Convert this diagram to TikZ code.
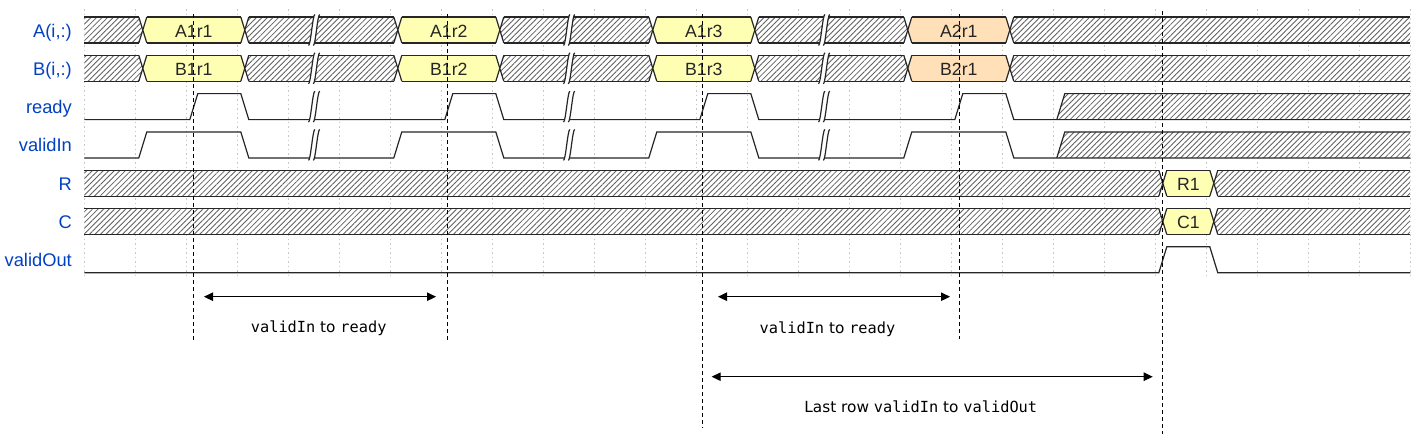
\documentclass[tikz,border=0pt]{standalone}
\usepackage{fontspec}
\setmainfont{Liberation Sans}
\newfontfamily\amono{DejaVu Sans Mono}
\newfontfamily\asans{DejaVu Sans}
\usetikzlibrary{arrows.meta,patterns.meta}
\definecolor{wdblue}{HTML}{0041C4}
\definecolor{wdyellow}{HTML}{FFFFB4}
\definecolor{wdorange}{HTML}{FFE0B9}
\tikzset{
 wave/.style={line width=1.2pt, draw=black!85, line join=miter},
 xfill/.style={preaction={fill=white}, pattern={Lines[angle=45,distance=3.9pt,line width=0.85pt]}, pattern color=black!62},
 yfill/.style={fill=wdyellow},
 ofill/.style={fill=wdorange},
 gridline/.style={draw=black!22, line width=0.8pt, dash pattern=on 1.5pt off 3pt},
 marker/.style={draw=black, line width=1pt, dash pattern=on 4pt off 3pt},
 dimarrow/.style={draw=black, line width=1pt, arrows={Triangle[length=9pt,width=8.5pt]-Triangle[length=9pt,width=8.5pt]}},
 signame/.style={anchor=base east, text=wdblue, font=\fontsize{18.3}{20}\selectfont, inner sep=0pt},
 datalbl/.style={anchor=base, text=black!85, font=\fontsize{17.7}{20}\selectfont, inner sep=0pt},
 dimlbl/.style={anchor=base, text=black, font=\asans\fontsize{15.3}{18}\selectfont, inner sep=0pt},
}
\newcommand\px[2]{84.3+51*#1+#2}
\newcommand\busseg[4]{%
  \pgfmathsetmacro\yt{17+38.3*#1}%
  \pgfmathsetmacro\yb{\yt+26}%
  \pgfmathsetmacro\ym{\yt+13}%
  \ifnum#2=0
    \pgfmathsetmacro\xlt{84.3}\pgfmathsetmacro\xlm{84.3}%
  \else
    \pgfmathsetmacro\xlt{84.3+51*#2+11.5}\pgfmathsetmacro\xlm{84.3+51*#2+7.5}%
  \fi
  \ifnum#3=26
    \pgfmathsetmacro\xrt{84.3+51*26}\pgfmathsetmacro\xrm{\xrt}%
  \else
    \pgfmathsetmacro\xrt{84.3+51*#3+3.5}\pgfmathsetmacro\xrm{84.3+51*#3+7.5}%
  \fi
  \path[#4] (\xlt,\yt) -- (\xrt,\yt) -- (\xrm,\ym) -- (\xrt,\yb) -- (\xlt,\yb) -- (\xlm,\ym) -- cycle;
  \draw[wave] (\xlt,\yt) -- (\xrt,\yt);
  \draw[wave] (\xlt,\yb) -- (\xrt,\yb);
  \ifnum#2>0 \draw[wave] (\xlt,\yt) -- (\xlm,\ym) -- (\xlt,\yb);\fi
  \ifnum#3<26 \draw[wave] (\xrt,\yt) -- (\xrm,\ym) -- (\xrt,\yb);\fi
}
\newcommand\buslbl[5]{%
  \pgfmathsetmacro\lx{84.3+51*(#3+#4)/2+7.5}%
  \pgfmathsetmacro\ly{17+38.3*#2+20}%
  \node[datalbl] (#1) at (\lx,\ly) {#5};%
}
\newcommand\gapmark[2]{%
  \pgfmathsetmacro\gx{84.3+51*(#2+0.5)+0.3}%
  \pgfmathsetmacro\gt{17+38.3*#1-2.5}%
  \pgfmathsetmacro\gb{\gt+31}%
  \fill[white] ({\gx-2.4-3.2},\gb) .. controls ({\gx-2.4-1},\gb) and ({\gx-2.4+1},\gt) .. ({\gx-2.4+3.2},\gt)
     -- ({\gx+2.4+3.2},\gt) .. controls ({\gx+2.4+1},\gt) and ({\gx+2.4-1},\gb) .. ({\gx+2.4-3.2},\gb) -- cycle;
  \draw[wave] ({\gx-2.4-3.2},\gb) .. controls ({\gx-2.4-1},\gb) and ({\gx-2.4+1},\gt) .. ({\gx-2.4+3.2},\gt);
  \draw[wave] ({\gx+2.4-3.2},\gb) .. controls ({\gx+2.4-1},\gb) and ({\gx+2.4+1},\gt) .. ({\gx+2.4+3.2},\gt);
}
\begin{document}
\begin{tikzpicture}[x=1pt,y=-1pt]
\fill[white] (0,0) rectangle (1416,434);
\useasboundingbox (0,0) rectangle (1416,434);
% grid
\foreach \k in {0,...,26} \draw[gridline] ({84.3+51*\k},9) -- ({84.3+51*\k},279);
% signal names
\node[signame] (nA) at (72,37) {A(i,:)};
\node[signame] (nB) at (72,75.3) {B(i,:)};
\node[signame] (nready) at (72,113.6) {ready};
\node[signame] (nvalidIn) at (72,151.9) {validIn};
\node[signame] (nR) at (72,190.2) {R};
\node[signame] (nC) at (72,228.5) {C};
\node[signame] (nvalidOut) at (72,266.8) {validOut};
% A and B buses
\foreach \r in {0,1}{
  \busseg{\r}{0}{1}{xfill}
  \busseg{\r}{1}{3}{yfill}
  \busseg{\r}{3}{6}{xfill}
  \busseg{\r}{6}{8}{yfill}
  \busseg{\r}{8}{11}{xfill}
  \busseg{\r}{11}{13}{yfill}
  \busseg{\r}{13}{16}{xfill}
  \busseg{\r}{16}{18}{ofill}
  \busseg{\r}{18}{26}{xfill}
}
\buslbl{a1}{0}{1}{3}{A1r1}
\buslbl{a2}{0}{6}{8}{A1r2}
\buslbl{a3}{0}{11}{13}{A1r3}
\buslbl{a4}{0}{16}{18}{A2r1}
\buslbl{b1}{1}{1}{3}{B1r1}
\buslbl{b2}{1}{6}{8}{B1r2}
\buslbl{b3}{1}{11}{13}{B1r3}
\buslbl{b4}{1}{16}{18}{B2r1}
% ready
\path[xfill] ({\px{19}{3.5}},119.6) -- ({\px{19}{11.5}},93.6) -- ({\px{26}{0}},93.6) -- ({\px{26}{0}},119.6) -- cycle;
\draw[wave] ({\px{19}{3.5}},119.6) -- ({\px{19}{11.5}},93.6) -- ({\px{26}{0}},93.6);
\draw[wave] (84.3,119.6)
 -- ({\px{2}{3.5}},119.6) -- ({\px{2}{11.5}},93.6) -- ({\px{3}{3.5}},93.6) -- ({\px{3}{11.5}},119.6)
 -- ({\px{7}{3.5}},119.6) -- ({\px{7}{11.5}},93.6) -- ({\px{8}{3.5}},93.6) -- ({\px{8}{11.5}},119.6)
 -- ({\px{12}{3.5}},119.6) -- ({\px{12}{11.5}},93.6) -- ({\px{13}{3.5}},93.6) -- ({\px{13}{11.5}},119.6)
 -- ({\px{17}{3.5}},119.6) -- ({\px{17}{11.5}},93.6) -- ({\px{18}{3.5}},93.6) -- ({\px{18}{11.5}},119.6)
 -- ({\px{26}{0}},119.6);
% validIn
\path[xfill] ({\px{19}{3.5}},157.9) -- ({\px{19}{11.5}},131.9) -- ({\px{26}{0}},131.9) -- ({\px{26}{0}},157.9) -- cycle;
\draw[wave] ({\px{19}{3.5}},157.9) -- ({\px{19}{11.5}},131.9) -- ({\px{26}{0}},131.9);
\draw[wave] (84.3,157.9)
 -- ({\px{1}{3.5}},157.9) -- ({\px{1}{11.5}},131.9) -- ({\px{3}{3.5}},131.9) -- ({\px{3}{11.5}},157.9)
 -- ({\px{6}{3.5}},157.9) -- ({\px{6}{11.5}},131.9) -- ({\px{8}{3.5}},131.9) -- ({\px{8}{11.5}},157.9)
 -- ({\px{11}{3.5}},157.9) -- ({\px{11}{11.5}},131.9) -- ({\px{13}{3.5}},131.9) -- ({\px{13}{11.5}},157.9)
 -- ({\px{16}{3.5}},157.9) -- ({\px{16}{11.5}},131.9) -- ({\px{18}{3.5}},131.9) -- ({\px{18}{11.5}},157.9)
 -- ({\px{26}{0}},157.9);
% R and C
\foreach \r in {4,5}{
  \busseg{\r}{0}{21}{xfill}
  \busseg{\r}{21}{22}{yfill}
  \busseg{\r}{22}{26}{xfill}
}
\buslbl{r1}{4}{21}{22}{R1}
\buslbl{c1}{5}{21}{22}{C1}
% validOut
\draw[wave] (84.3,272.8)
 -- ({\px{21}{3.5}},272.8) -- ({\px{21}{11.5}},246.8) -- ({\px{22}{3.5}},246.8) -- ({\px{22}{11.5}},272.8)
 -- ({\px{26}{0}},272.8);
% gaps
\foreach \r in {0,1,2,3}{
  \foreach \c in {4,9,14}{ \gapmark{\r}{\c} }
}
% markers
\draw[marker] (193.3,14) -- (193.3,340);
\draw[marker] (447.3,14) -- (447.3,340);
\draw[marker] (702.3,14) -- (702.3,428);
\draw[marker] (959.3,14) -- (959.3,339);
\draw[marker] (1162.3,11) -- (1162.3,434);
% dimension arrows
\coordinate (d1l) at (204,296.7);
\coordinate (d1r) at (436,296.7);
\coordinate (d2l) at (718,296.7);
\coordinate (d2r) at (950,296.7);
\coordinate (d3l) at (711.7,376.7);
\coordinate (d3r) at (1152.7,376.7);
\draw[dimarrow] (d1l) -- (d1r);
\draw[dimarrow] (d2l) -- (d2r);
\draw[dimarrow] (d3l) -- (d3r);
\node[dimlbl] (l1) at (318.7,332.7) {{\amono validIn} to {\amono ready}};
\node[dimlbl] (l2) at (827.5,333.3) {{\amono validIn} to {\amono ready}};
\node[dimlbl] (l3) at (920.8,412.7) {Last row {\amono validIn} to {\amono validOut}};
\end{tikzpicture}
\end{document}
